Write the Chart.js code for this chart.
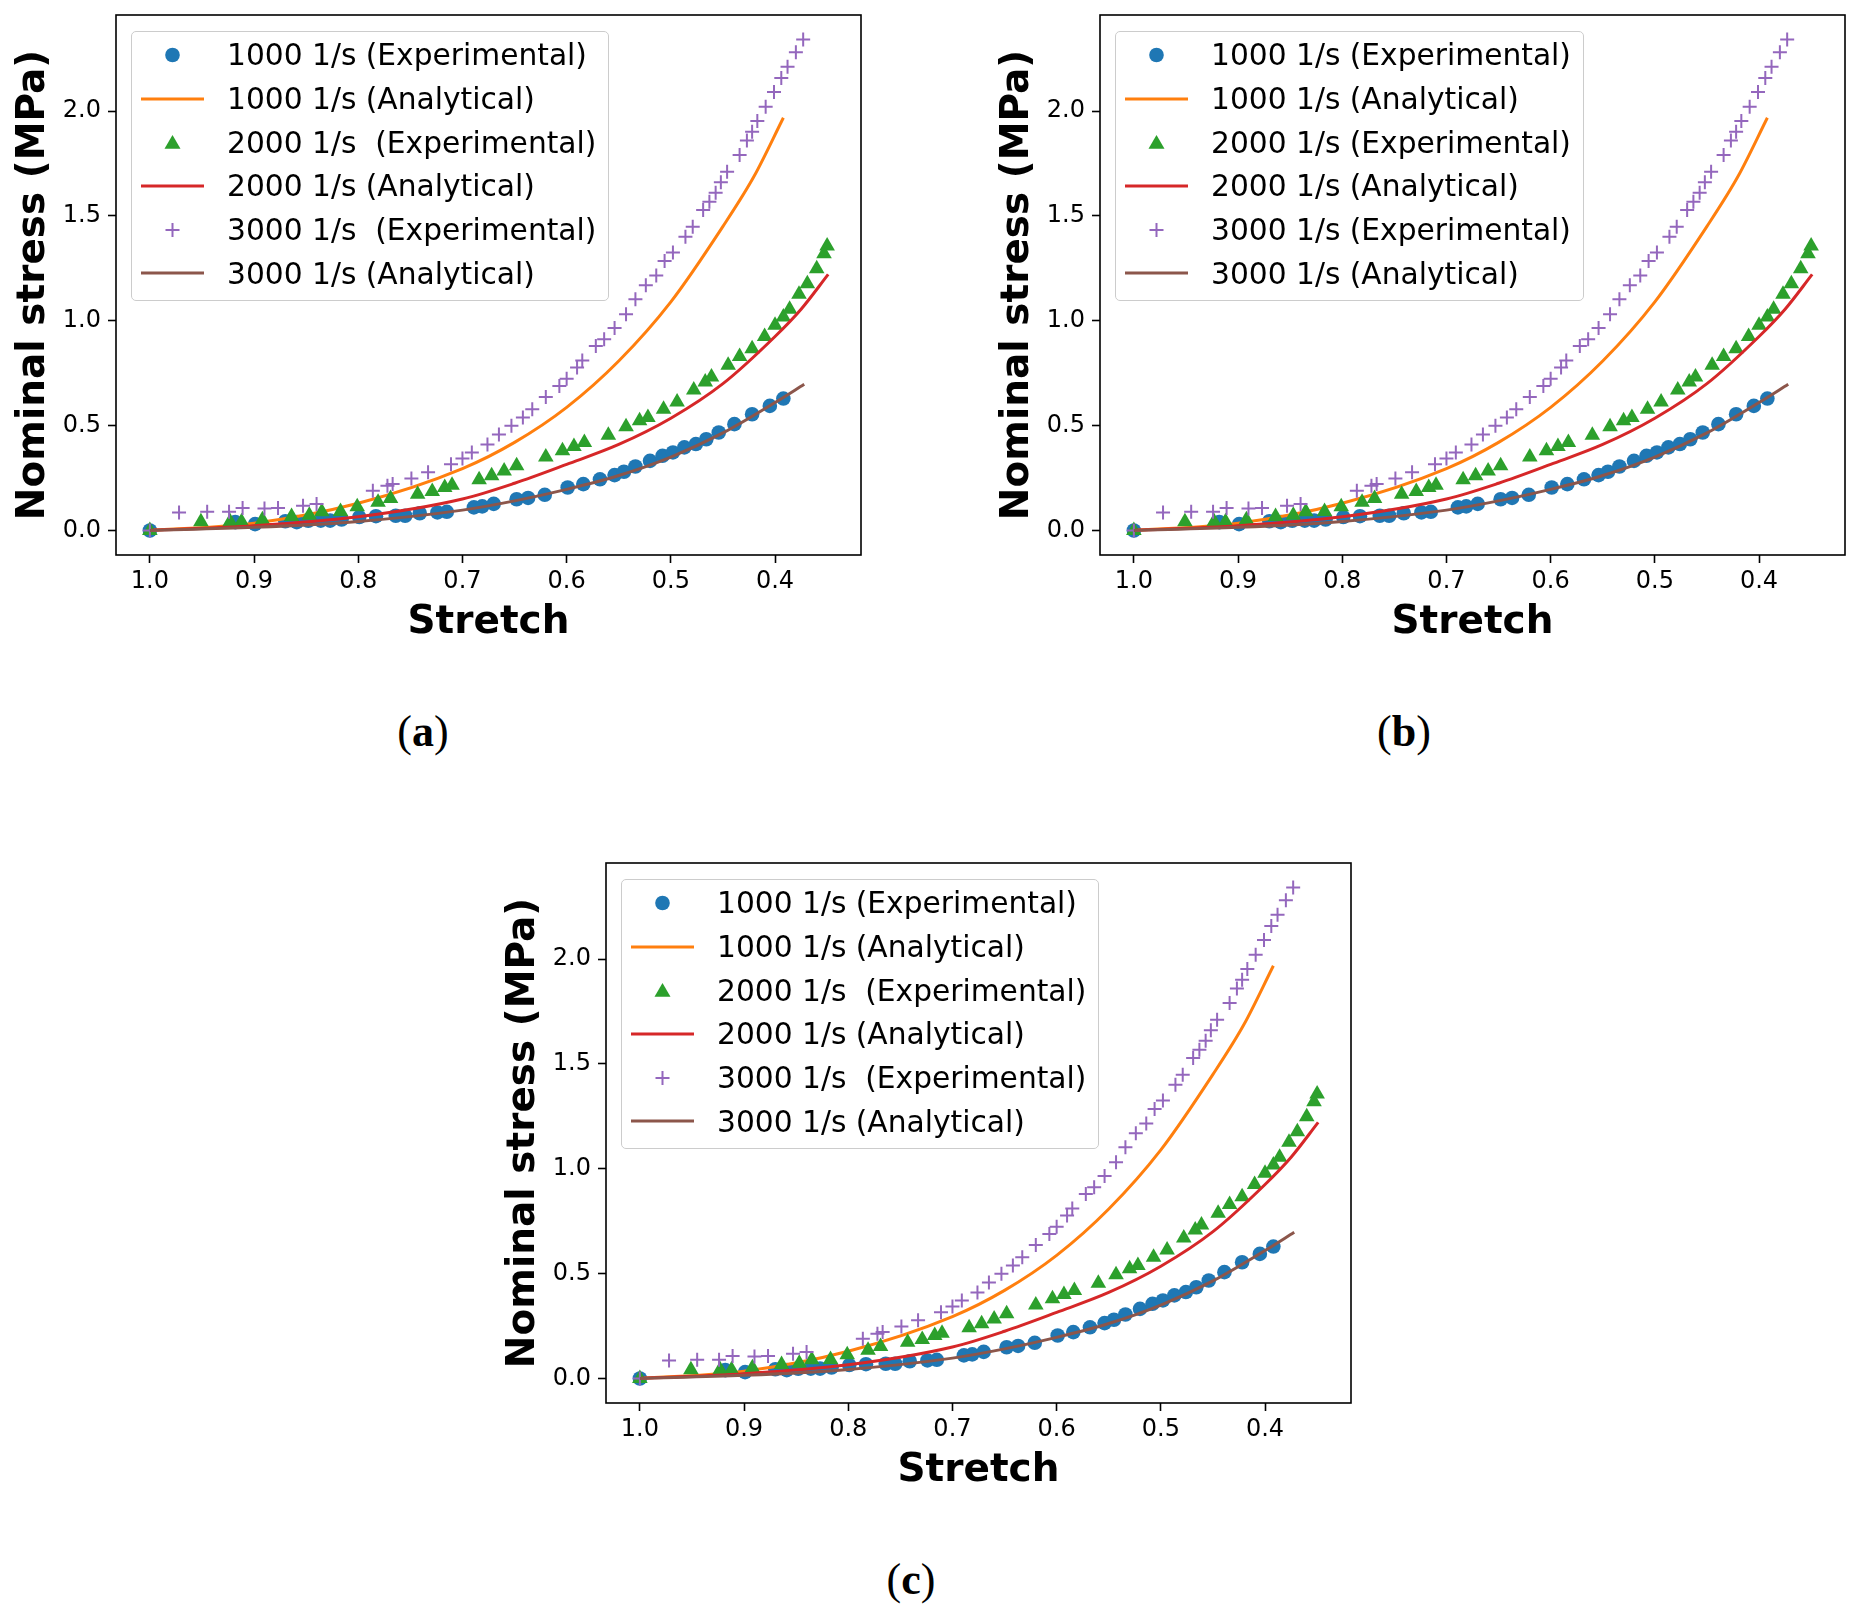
<!DOCTYPE html>
<html>
<head>
<meta charset="utf-8">
<script src="https://cdn.jsdelivr.net/npm/chart.js@4.4.0/dist/chart.umd.min.js"></script>
<style>
  body { margin: 0; background: #fff; width: 1860px; height: 1612px; position: relative; overflow: hidden; font-family: "DejaVu Sans"; }
  .panel { position: absolute; width: 870px; height: 660px; }
  .panel canvas { position: absolute; left: 0; top: 0; }
  .legend { position: absolute; left: 131px; top: 31px; border: 1px solid #cccccc; border-radius: 5px;
            background: rgba(255,255,255,0.8); padding: 1px 12px 5px 0; }
  .row { height: 43.7px; display: flex; align-items: center; white-space: pre; font-size: 29.7px; color: #000; }
  .row svg { flex: none; }
  .caption { position: absolute; font-family: "Liberation Serif"; font-size: 44px; transform: translate(-50%, -50%); white-space: nowrap; }
</style>
</head>
<body>
<div class="panel" id="pa" style="left:0px;top:0px"><canvas id="chartA" width="870" height="660"></canvas></div>
<div class="panel" id="pb" style="left:984px;top:0px"><canvas id="chartB" width="870" height="660"></canvas></div>
<div class="panel" id="pc" style="left:490px;top:848px"><canvas id="chartC" width="870" height="660"></canvas></div>
<div class="caption" style="left:423px;top:731px">(<b>a</b>)</div>
<div class="caption" style="left:1404px;top:731px">(<b>b</b>)</div>
<div class="caption" style="left:911px;top:1579px">(<b>c</b>)</div>
<script>
// tick labels
const stretchTicks = [1.0, 0.9, 0.8, 0.7, 0.6, 0.5, 0.4];
const stressTicks = [0.0, 0.5, 1.0, 1.5, 2.0];

// legend texts (a and c use a double space before "(Experimental)" for 2000 and 3000)
const labelsAC = ['1000 1/s (Experimental)', '1000 1/s (Analytical)', '2000 1/s  (Experimental)',
                  '2000 1/s (Analytical)', '3000 1/s  (Experimental)', '3000 1/s (Analytical)'];
const labelsB = ['1000 1/s (Experimental)', '1000 1/s (Analytical)', '2000 1/s (Experimental)',
                 '2000 1/s (Analytical)', '3000 1/s (Experimental)', '3000 1/s (Analytical)'];

// 1000 1/s experimental
const exp1000Stretch = [1.0, 0.918, 0.899, 0.870, 0.859, 0.848, 0.836, 0.827, 0.816, 0.799, 0.783, 0.764, 0.755,
  0.741, 0.724, 0.715, 0.689, 0.681, 0.670, 0.648, 0.637, 0.621, 0.599, 0.584, 0.568, 0.554, 0.545, 0.534,
  0.520, 0.508, 0.498, 0.487, 0.476, 0.466, 0.454, 0.439, 0.422, 0.405, 0.392];
const exp1000Stress = [0.0, 0.040, 0.030, 0.044, 0.040, 0.046, 0.047, 0.047, 0.052, 0.064, 0.068, 0.070, 0.070,
  0.082, 0.086, 0.089, 0.110, 0.115, 0.127, 0.149, 0.155, 0.170, 0.205, 0.221, 0.244, 0.264, 0.280, 0.305,
  0.332, 0.356, 0.372, 0.396, 0.412, 0.435, 0.467, 0.507, 0.554, 0.594, 0.629];

// 1000 1/s analytical
const ana1000Stretch = [1.0, 0.9, 0.8, 0.7, 0.65, 0.6, 0.55, 0.5, 0.45, 0.42, 0.392];
const ana1000Stress = [0.0, 0.035, 0.130, 0.295, 0.420, 0.587, 0.808, 1.090, 1.450, 1.690, 1.968];

// 2000 1/s experimental
const exp2000Stretch = [1.0, 0.951, 0.923, 0.912, 0.892, 0.864, 0.847, 0.835, 0.817, 0.801, 0.781, 0.769, 0.743,
  0.729, 0.717, 0.710, 0.684, 0.672, 0.660, 0.648, 0.620, 0.604, 0.593, 0.583, 0.560, 0.543, 0.530, 0.522,
  0.507, 0.494, 0.478, 0.467, 0.461, 0.445, 0.434, 0.422, 0.410, 0.400, 0.392, 0.386, 0.377, 0.369, 0.360, 0.353, 0.350];
const exp2000Stress = [0.0, 0.042, 0.042, 0.042, 0.051, 0.066, 0.073, 0.089, 0.091, 0.113, 0.134, 0.153, 0.173,
  0.186, 0.205, 0.216, 0.242, 0.261, 0.284, 0.308, 0.350, 0.380, 0.400, 0.420, 0.454, 0.494, 0.523, 0.539,
  0.578, 0.613, 0.670, 0.708, 0.732, 0.788, 0.829, 0.867, 0.925, 0.978, 1.018, 1.055, 1.126, 1.177, 1.248, 1.320, 1.356];

// 2000 1/s analytical
const ana2000Stretch = [1.0, 0.9, 0.8, 0.7, 0.65, 0.6, 0.55, 0.5, 0.45, 0.4, 0.375, 0.349];
const ana2000Stress = [0.0, 0.022, 0.065, 0.150, 0.225, 0.315, 0.410, 0.535, 0.700, 0.925, 1.055, 1.221];

// 3000 1/s experimental
const exp3000Stretch = [1.0, 0.972, 0.945, 0.924, 0.911, 0.890, 0.877, 0.853, 0.840, 0.786, 0.772, 0.767, 0.749,
  0.733, 0.711, 0.700, 0.691, 0.676, 0.665, 0.653, 0.642, 0.633, 0.620, 0.607, 0.600, 0.590, 0.585, 0.572,
  0.564, 0.554, 0.543, 0.534, 0.524, 0.514, 0.506, 0.498, 0.486, 0.479, 0.469, 0.463, 0.457, 0.452, 0.446,
  0.434, 0.427, 0.422, 0.417, 0.409, 0.401, 0.394, 0.388, 0.380, 0.373];
const exp3000Stress = [0.0, 0.086, 0.089, 0.089, 0.107, 0.105, 0.107, 0.118, 0.126, 0.189, 0.213, 0.221, 0.248,
  0.277, 0.316, 0.343, 0.372, 0.410, 0.458, 0.499, 0.539, 0.578, 0.636, 0.689, 0.724, 0.777, 0.810, 0.880,
  0.912, 0.965, 1.031, 1.102, 1.169, 1.216, 1.285, 1.325, 1.401, 1.448, 1.528, 1.568, 1.610, 1.660, 1.710,
  1.790, 1.859, 1.901, 1.952, 2.020, 2.091, 2.158, 2.211, 2.280, 2.341];

// 3000 1/s analytical
const ana3000Stretch = [1.0, 0.9, 0.8, 0.7, 0.65, 0.6, 0.55, 0.5, 0.45, 0.4, 0.372];
const ana3000Stress = [0.0, 0.015, 0.043, 0.097, 0.141, 0.196, 0.262, 0.350, 0.465, 0.610, 0.697];

const blue = '#1f77b4', orange = '#ff7f0e', green = '#2ca02c', red = '#d62728', purple = '#9467bd', brown = '#8c564b';

function pts(xs, ys) {
  return xs.map((x, i) => ({ x: x, y: ys[i] }));
}

function expSet(xs, ys, color, style, r, order) {
  return {
    data: pts(xs, ys), showLine: false, order: order,
    pointStyle: style, pointRadius: r, pointHoverRadius: r,
    pointBackgroundColor: color, pointBorderColor: color,
    pointBorderWidth: style === 'cross' ? 2 : 0
  };
}

function anaSet(xs, ys, color, order) {
  return {
    data: pts(xs, ys), showLine: true, order: order,
    borderColor: color, borderWidth: 3, pointRadius: 0, pointHoverRadius: 0,
    cubicInterpolationMode: 'monotone', fill: false
  };
}

const frame = {
  id: 'frame',
  afterDatasetsDraw(chart) {
    const a = chart.chartArea, c = chart.ctx;
    c.save();
    c.strokeStyle = '#000';
    c.lineWidth = 1.6;
    c.strokeRect(a.left, a.top, a.right - a.left, a.bottom - a.top);
    c.restore();
  }
};

const tickFont = { family: 'DejaVu Sans', size: 24 };
const titleFont = { family: 'DejaVu Sans', size: 39, weight: 'bold', lineHeight: 1 };

function makeChart(id) {
  return new Chart(document.getElementById(id), {
    type: 'scatter',
    data: {
      datasets: [
        expSet(exp1000Stretch, exp1000Stress, blue, 'circle', 7.3, 5),
        anaSet(ana1000Stretch, ana1000Stress, orange, 4),
        expSet(exp2000Stretch, exp2000Stress, green, 'triangle', 9, 3),
        anaSet(ana2000Stretch, ana2000Stress, red, 2),
        expSet(exp3000Stretch, exp3000Stress, purple, 'cross', 7, 1),
        anaSet(ana3000Stretch, ana3000Stress, brown, 0)
      ]
    },
    options: {
      responsive: false,
      animation: false,
      devicePixelRatio: 1,
      layout: { padding: { left: 0, top: 15, right: 8, bottom: 0 } },
      plugins: { legend: { display: false }, tooltip: { enabled: false } },
      scales: {
        x: {
          type: 'linear', reverse: true, min: 0.3175, max: 1.0325,
          afterBuildTicks: (s) => { s.ticks = stretchTicks.map(v => ({ value: v })); },
          afterFit: (s) => { s.height = 105; s.paddingLeft = 0; s.paddingRight = 0; },
          grid: { drawOnChartArea: false, drawTicks: true, tickLength: 8, tickWidth: 1.6, tickColor: '#000' },
          border: { display: false },
          ticks: { color: '#000', font: tickFont, padding: 4, maxRotation: 0, autoSkip: false,
                   callback: (v) => Number(v).toFixed(1) },
          title: { display: true, text: 'Stretch', color: '#000', font: titleFont, padding: { top: 0, bottom: 18 } }
        },
        y: {
          type: 'linear', min: -0.117, max: 2.458,
          afterBuildTicks: (s) => { s.ticks = stressTicks.map(v => ({ value: v })); },
          afterFit: (s) => { s.width = 116; s.paddingTop = 0; s.paddingBottom = 0; },
          grid: { drawOnChartArea: false, drawTicks: true, tickLength: 8, tickWidth: 1.6, tickColor: '#000' },
          border: { display: false },
          ticks: { color: '#000', font: tickFont, padding: 7, autoSkip: false,
                   callback: (v) => Number(v).toFixed(1) },
          title: { display: true, text: 'Nominal stress (MPa)', color: '#000', font: titleFont, padding: { top: 14, bottom: 0 } }
        }
      }
    },
    plugins: [frame]
  });
}

const handles = [
  '<circle cx="40.5" cy="22" r="7.3" fill="' + blue + '"/>',
  '<line x1="9" y1="22" x2="72" y2="22" stroke="' + orange + '" stroke-width="3"/>',
  '<polygon points="40.5,15 32.5,28.8 48.5,28.8" fill="' + green + '"/>',
  '<line x1="9" y1="22" x2="72" y2="22" stroke="' + red + '" stroke-width="3"/>',
  '<path d="M33.5 22 H47.5 M40.5 15 V29" stroke="' + purple + '" stroke-width="2" fill="none"/>',
  '<line x1="9" y1="22" x2="72" y2="22" stroke="' + brown + '" stroke-width="3"/>'
];

function makeLegend(panelId, labels) {
  const box = document.createElement('div');
  box.className = 'legend';
  labels.forEach((t, i) => {
    const row = document.createElement('div');
    row.className = 'row';
    row.innerHTML = '<svg width="95" height="44" viewBox="0 0 95 44">' + handles[i] + '</svg><span>' + t + '</span>';
    box.appendChild(row);
  });
  document.getElementById(panelId).appendChild(box);
}

makeChart('chartA');
makeChart('chartB');
makeChart('chartC');
makeLegend('pa', labelsAC);
makeLegend('pb', labelsB);
makeLegend('pc', labelsAC);
</script>
</body>
</html>
